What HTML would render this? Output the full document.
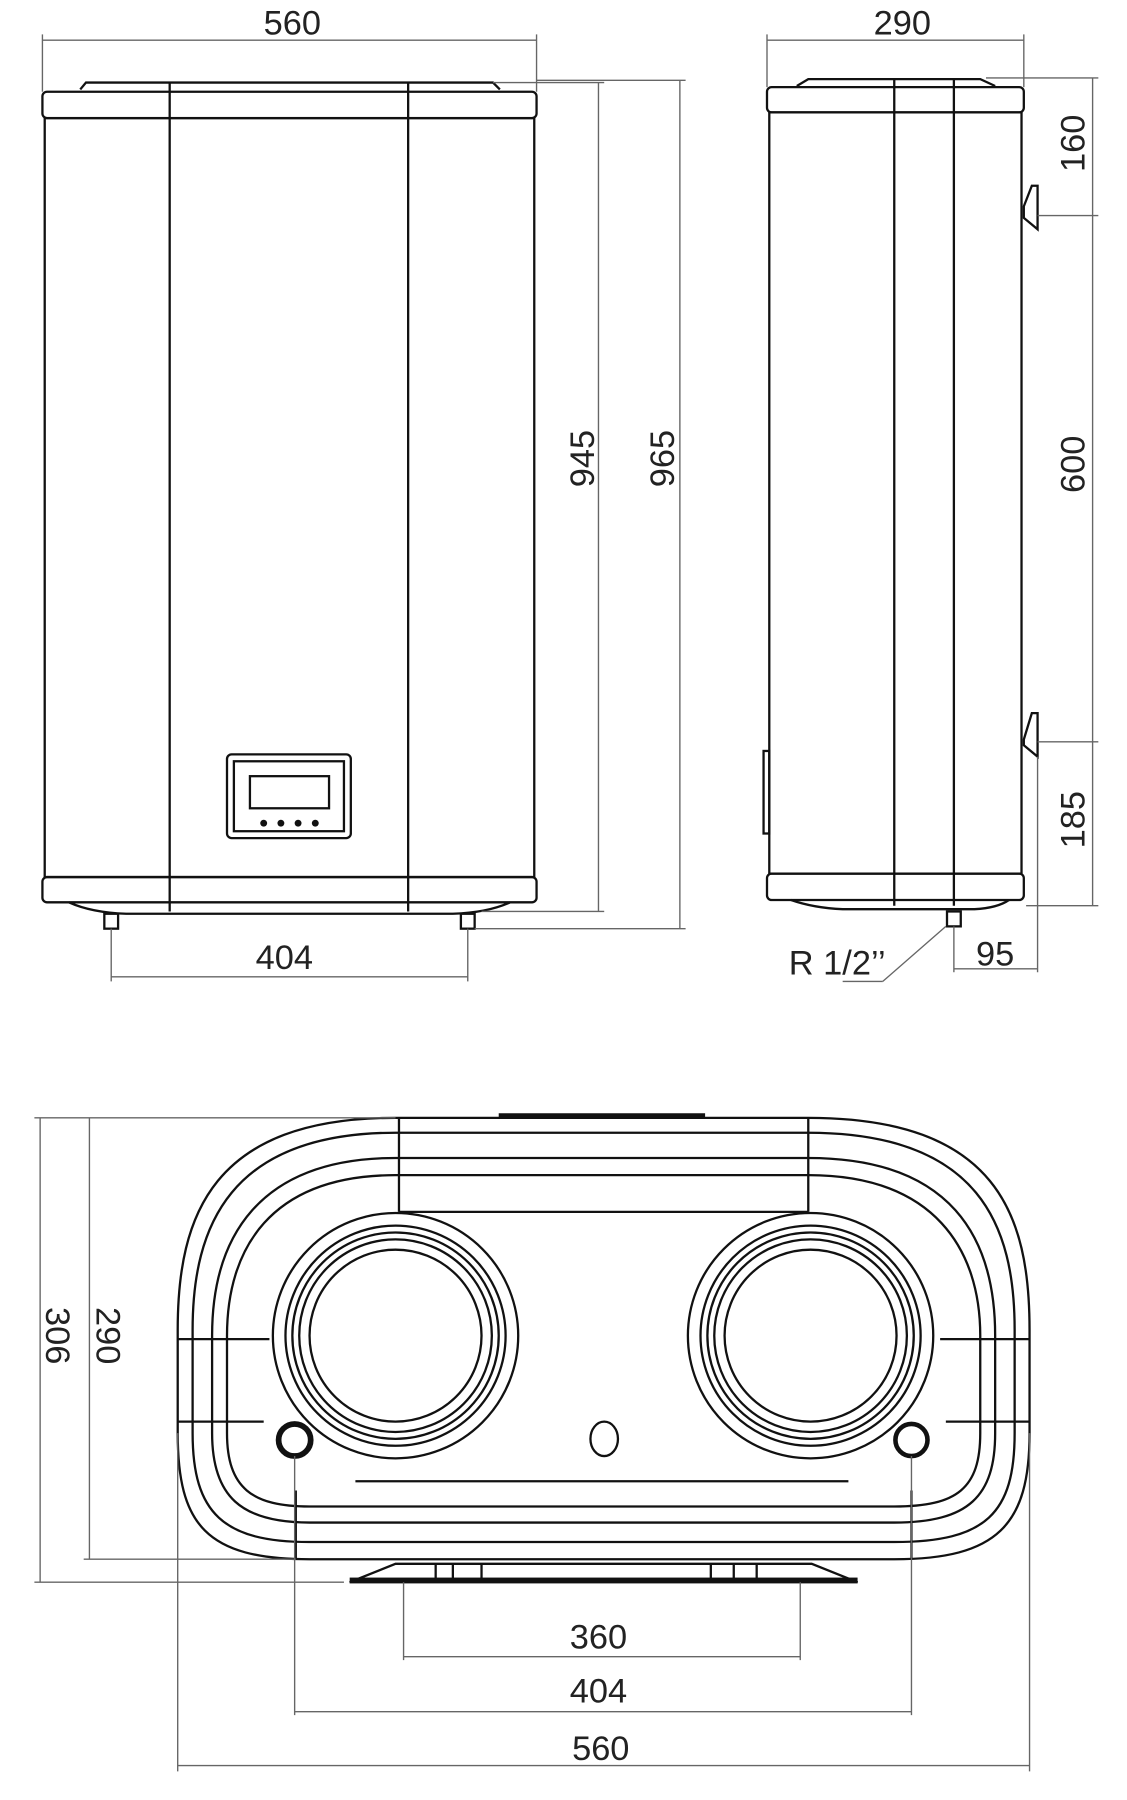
<!DOCTYPE html>
<html><head><meta charset="utf-8"><style>
html,body{margin:0;padding:0;background:#fff;}
svg{display:block;}
text{font-family:"Liberation Sans",sans-serif;fill:#222;}
</style></head><body>
<svg width="1127" height="1800" viewBox="0 0 983 1570" preserveAspectRatio="none" xmlns="http://www.w3.org/2000/svg">
<g fill="none" stroke="#111" stroke-width="2">
<!-- FRONT VIEW -->
<path d="M70 78 L75 72 L430 72 L436 78"/>
<rect x="37" y="80" width="431" height="23" rx="4"/>
<rect x="39" y="103" width="427" height="662"/>
<rect x="37" y="765" width="431" height="22" rx="4"/>
<path d="M60 787 Q80 796 110 797 L395 797 Q425 796 445 787"/>
<line x1="148" y1="72" x2="148" y2="795"/>
<line x1="356" y1="72" x2="356" y2="795"/>
<rect x="91" y="797" width="12" height="13"/>
<rect x="402" y="797" width="12" height="13"/>
<rect x="198" y="658" width="108" height="73" rx="4"/>
<rect x="204" y="664" width="96" height="61"/>
<rect x="218" y="677" width="69" height="28"/>
</g>
<g fill="#111">
<circle cx="230" cy="718" r="3"/><circle cx="245" cy="718" r="3"/><circle cx="260" cy="718" r="3"/><circle cx="275" cy="718" r="3"/>
</g>
<!-- SIDE VIEW -->
<g fill="none" stroke="#111" stroke-width="2">
<path d="M695 75 L705 69 L855 69 L868 75"/>
<rect x="669" y="76" width="224" height="22" rx="4"/>
<rect x="671" y="98" width="220" height="664"/>
<rect x="669" y="762" width="224" height="23" rx="4"/>
<path d="M690 785 Q710 792 735 793 L850 793 Q870 792 880 785"/>
<line x1="780" y1="69" x2="780" y2="790"/>
<line x1="832" y1="69" x2="832" y2="790"/>
<rect x="666" y="655" width="5" height="72"/>
<path d="M893 180 L900 162 L905 162 L905 200 L893 190 Z"/>
<path d="M893 645 L900 622 L905 622 L905 660 L893 650 Z"/>
<rect x="826" y="795" width="12" height="13"/>
</g>
<!-- BOTTOM VIEW -->
<g fill="none" stroke="#111" stroke-width="2">
<path d="M345 975 L705 975 C870 975 898 1060 898 1160 L898 1250 C898 1330 870 1360 780 1360 L270 1360 C180 1360 155 1330 155 1250 L155 1160 C155 1060 185 975 345 975 Z"/>
<path d="M345 988 L705 988 C855 988 885 1070 885 1160 L885 1250 C885 1320 860 1345 780 1345 L270 1345 C195 1345 168 1320 168 1250 L168 1160 C168 1070 200 988 345 988 Z"/>
<path d="M345 1010 L705 1010 C830 1010 868 1080 868 1165 L868 1250 C868 1305 845 1328 780 1328 L270 1328 C210 1328 185 1305 185 1250 L185 1165 C185 1080 225 1010 345 1010 Z"/>
<path d="M345 1025 L705 1025 C815 1025 855 1090 855 1165 L855 1250 C855 1298 835 1314 780 1314 L270 1314 C220 1314 198 1298 198 1250 L198 1165 C198 1090 235 1025 345 1025 Z"/>
<line x1="348" y1="975" x2="348" y2="1057"/><line x1="705" y1="975" x2="705" y2="1057"/>
<line x1="348" y1="1057" x2="705" y2="1057"/>
<line x1="310" y1="1292" x2="740" y2="1292"/>
<line x1="155" y1="1168" x2="235" y2="1168"/><line x1="820" y1="1168" x2="898" y2="1168"/>
<line x1="155" y1="1240" x2="230" y2="1240"/><line x1="825" y1="1240" x2="898" y2="1240"/>
<line x1="258" y1="1300" x2="258" y2="1360"/><line x1="795" y1="1300" x2="795" y2="1360"/>
<circle cx="345" cy="1165" r="107"/><circle cx="345" cy="1165" r="96"/><circle cx="345" cy="1165" r="90"/><circle cx="345" cy="1165" r="84"/><circle cx="345" cy="1165" r="75"/>
<circle cx="707" cy="1165" r="107"/><circle cx="707" cy="1165" r="96"/><circle cx="707" cy="1165" r="90"/><circle cx="707" cy="1165" r="84"/><circle cx="707" cy="1165" r="75"/>
<ellipse cx="527" cy="1255" rx="12" ry="15"/>
<circle cx="257" cy="1256" r="14" stroke-width="5"/>
<circle cx="795" cy="1256" r="14" stroke-width="4"/>
<path d="M305 1380 L345 1364 L708 1364 L748 1380 Z"/>
<line x1="380" y1="1364" x2="380" y2="1378"/><line x1="395" y1="1364" x2="395" y2="1378"/><line x1="420" y1="1364" x2="420" y2="1378"/>
<line x1="620" y1="1364" x2="620" y2="1378"/><line x1="640" y1="1364" x2="640" y2="1378"/><line x1="660" y1="1364" x2="660" y2="1378"/>
</g>
<rect x="435" y="971" width="180" height="5" fill="#111"/>
<rect x="305" y="1376" width="443" height="5" fill="#111"/>
<!-- DIMENSION LINES -->
<g fill="none" stroke="#666" stroke-width="1.2">
<line x1="37" y1="35" x2="468" y2="35"/><line x1="37" y1="30" x2="37" y2="80"/><line x1="468" y1="30" x2="468" y2="80"/>
<line x1="430" y1="72" x2="527" y2="72"/><line x1="522" y1="72" x2="522" y2="795"/><line x1="420" y1="795" x2="527" y2="795"/>
<line x1="468" y1="70" x2="598" y2="70"/><line x1="593" y1="70" x2="593" y2="810"/><line x1="414" y1="810" x2="598" y2="810"/>
<line x1="97" y1="810" x2="97" y2="856"/><line x1="408" y1="810" x2="408" y2="856"/><line x1="97" y1="852" x2="408" y2="852"/>
<line x1="669" y1="35" x2="893" y2="35"/><line x1="669" y1="30" x2="669" y2="76"/><line x1="893" y1="30" x2="893" y2="76"/>
<line x1="953" y1="68" x2="953" y2="790"/><line x1="860" y1="68" x2="958" y2="68"/><line x1="905" y1="188" x2="958" y2="188"/><line x1="905" y1="647" x2="958" y2="647"/><line x1="895" y1="790" x2="958" y2="790"/>
<line x1="905" y1="660" x2="905" y2="848"/><line x1="832" y1="808" x2="832" y2="848"/><line x1="832" y1="845" x2="905" y2="845"/>
<line x1="735" y1="856" x2="770" y2="856"/><line x1="770" y1="856" x2="825" y2="808"/>
<line x1="35" y1="975" x2="35" y2="1380"/><line x1="30" y1="975" x2="345" y2="975"/><line x1="30" y1="1380" x2="300" y2="1380"/>
<line x1="78" y1="975" x2="78" y2="1360"/><line x1="73" y1="1360" x2="258" y2="1360"/>
<line x1="352" y1="1380" x2="352" y2="1448"/><line x1="698" y1="1380" x2="698" y2="1448"/><line x1="352" y1="1445" x2="698" y2="1445"/>
<line x1="257" y1="1270" x2="257" y2="1496"/><line x1="795" y1="1270" x2="795" y2="1496"/><line x1="257" y1="1493" x2="795" y2="1493"/>
<line x1="155" y1="1250" x2="155" y2="1545"/><line x1="898" y1="1250" x2="898" y2="1545"/><line x1="155" y1="1540" x2="898" y2="1540"/>
</g>
<!-- LABELS -->
<g font-size="30">
<text x="255" y="30" text-anchor="middle">560</text>
<text x="787" y="30" text-anchor="middle">290</text>
<text x="248" y="845" text-anchor="middle">404</text>
<text transform="translate(518,400) rotate(-90)" text-anchor="middle">945</text>
<text transform="translate(588,400) rotate(-90)" text-anchor="middle">965</text>
<text transform="translate(946,125) rotate(-90)" text-anchor="middle">160</text>
<text transform="translate(946,405) rotate(-90)" text-anchor="middle">600</text>
<text transform="translate(946,715) rotate(-90)" text-anchor="middle">185</text>
<text x="868" y="842" text-anchor="middle">95</text>
<text x="688" y="850">R 1/2’’</text>
<text transform="translate(40,1165) rotate(90)" text-anchor="middle">306</text>
<text transform="translate(84,1165) rotate(90)" text-anchor="middle">290</text>
<text x="522" y="1438" text-anchor="middle">360</text>
<text x="522" y="1485" text-anchor="middle">404</text>
<text x="524" y="1535" text-anchor="middle">560</text>
</g>
</svg>
</body></html>
